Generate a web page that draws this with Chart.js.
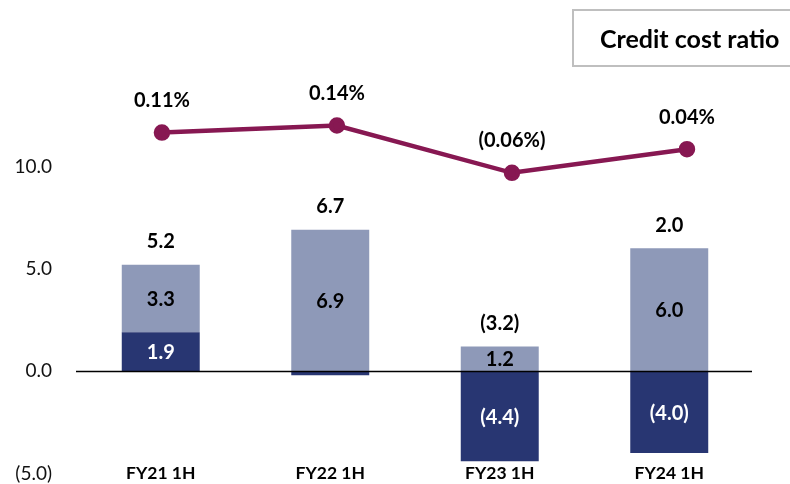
<!DOCTYPE html>
<html>
<head>
<meta charset="utf-8">
<script src="https://cdn.jsdelivr.net/npm/chart.js@4"></script>
<style>
  html, body { margin: 0; padding: 0; background: #fff; overflow: hidden; }
  #wrap { position: relative; width: 790px; height: 484px; }
  #legendBox {
    position: absolute; left: 572px; top: 9px; width: 240px; height: 58px;
    border: 2px solid #bfbfbf; box-sizing: border-box;
    font: bold 25px Lato, sans-serif; color: #000;
    padding-left: 26px; line-height: 54px;
  }
</style>
</head>
<body>
<div id="wrap">
  <canvas id="myChart" width="790" height="484"></canvas>
  <div id="legendBox">Credit cost ratio</div>
</div>
<script>
// data
const periods = ["FY21 1H", "FY22 1H", "FY23 1H", "FY24 1H"];
const darkPart = [1.9, -0.2, -4.4, -4.0];
const lightPart = [3.3, 6.9, 1.2, 6.0];
const totals = [5.2, 6.7, -3.2, 2.0];
const creditCostRatio = [0.11, 0.14, -0.06, 0.04];
const yTicks = [-5, 0, 5, 10];

// negatives shown in brackets
const fmt = (v, d) => v < 0 ? "(" + Math.abs(v).toFixed(d) + ")" : v.toFixed(d);
const fmtPct = (v) => v < 0 ? "(" + Math.abs(v).toFixed(2) + "%)" : v.toFixed(2) + "%";

const labelPlugin = {
  id: "labels",
  afterDatasetsDraw(chart) {
    const { ctx, chartArea, scales } = chart;
    ctx.save();
    // zero line over the bars
    const y0 = Math.round(scales.y.getPixelForValue(0)) + 0.5;
    ctx.strokeStyle = "#000";
    ctx.lineWidth = 1.3;
    ctx.beginPath();
    ctx.moveTo(chartArea.left, y0);
    ctx.lineTo(chartArea.right - 2, y0);
    ctx.stroke();

    ctx.textAlign = "center";
    ctx.textBaseline = "middle";
    ctx.font = "bold 20px Lato";
    const dark = chart.getDatasetMeta(0).data;
    const light = chart.getDatasetMeta(1).data;
    dark.forEach((bar, i) => {
      if (Math.abs(darkPart[i]) >= 0.5) {
        ctx.fillStyle = "#fff";
        ctx.fillText(fmt(darkPart[i], 1), bar.x, (bar.y + bar.base) / 2 + 1);
      }
    });
    light.forEach((bar, i) => {
      ctx.fillStyle = "#000";
      ctx.fillText(fmt(lightPart[i], 1), bar.x, (bar.y + bar.base) / 2 + 1);
      const top = Math.min(bar.y, dark[i].y);
      ctx.fillText(fmt(totals[i], 1), bar.x, top - 23);
    });
    chart.getDatasetMeta(2).data.forEach((pt, i) => {
      ctx.fillStyle = "#000";
      ctx.fillText(fmtPct(creditCostRatio[i]), pt.x, pt.y - 32);
    });
    // category names along the bottom
    ctx.font = "bold 17.5px Lato";
    periods.forEach((p, i) => {
      ctx.fillText(p, scales.x.getPixelForValue(i), 473);
    });
    ctx.restore();
  }
};

const ctx = document.getElementById("myChart");
const myChart = new Chart(ctx, {
  type: "bar",
  data: {
    labels: periods,
    datasets: [
      {
        label: "dark",
        data: darkPart,
        backgroundColor: "#283672",
        stack: "s",
        grouped: false,
        order: 2
      },
      {
        label: "light",
        data: lightPart,
        backgroundColor: "#8e99b8",
        stack: "s",
        grouped: false,
        order: 2
      },
      {
        type: "line",
        label: "Credit cost ratio",
        data: creditCostRatio.map((v, i) => ({ x: i, y: v })),
        xAxisID: "x2",
        yAxisID: "y2",
        borderColor: "#871852",
        backgroundColor: "#871852",
        borderWidth: 4.5,
        pointRadius: 6,
        pointHoverRadius: 6,
        tension: 0,
        order: 1
      }
    ]
  },
  options: {
    responsive: false,
    animation: false,
    devicePixelRatio: 1,
    barPercentage: 0.46,
    categoryPercentage: 1,
    layout: { padding: { top: 64, bottom: 8, left: 0, right: 36 } },
    plugins: {
      legend: { display: false },
      tooltip: { enabled: false }
    },
    scales: {
      x: {
        stacked: true,
        display: false
      },
      // the line's points sit on a slightly wider spacing than the bars
      x2: {
        type: "linear",
        display: false,
        offset: false,
        min: -0.491,
        max: 3.383
      },
      y: {
        stacked: true,
        min: -5,
        max: 15,
        border: { display: false },
        grid: { display: false },
        afterFit: (scale) => {
          scale.width = 76;
          scale.paddingTop = 0;
          scale.paddingBottom = 0;
        },
        afterBuildTicks: (scale) => { scale.ticks = yTicks.map(v => ({ value: v })); },
        ticks: {
          padding: 16,
          color: "#111",
          font: { family: "Lato", size: 19, lineHeight: 1 },
          callback: (v) => fmt(v, 1)
        }
      },
      y2: {
        display: false,
        min: -1.331,
        max: 0.400
      }
    }
  },
  plugins: [labelPlugin]
});
</script>
</body>
</html>
